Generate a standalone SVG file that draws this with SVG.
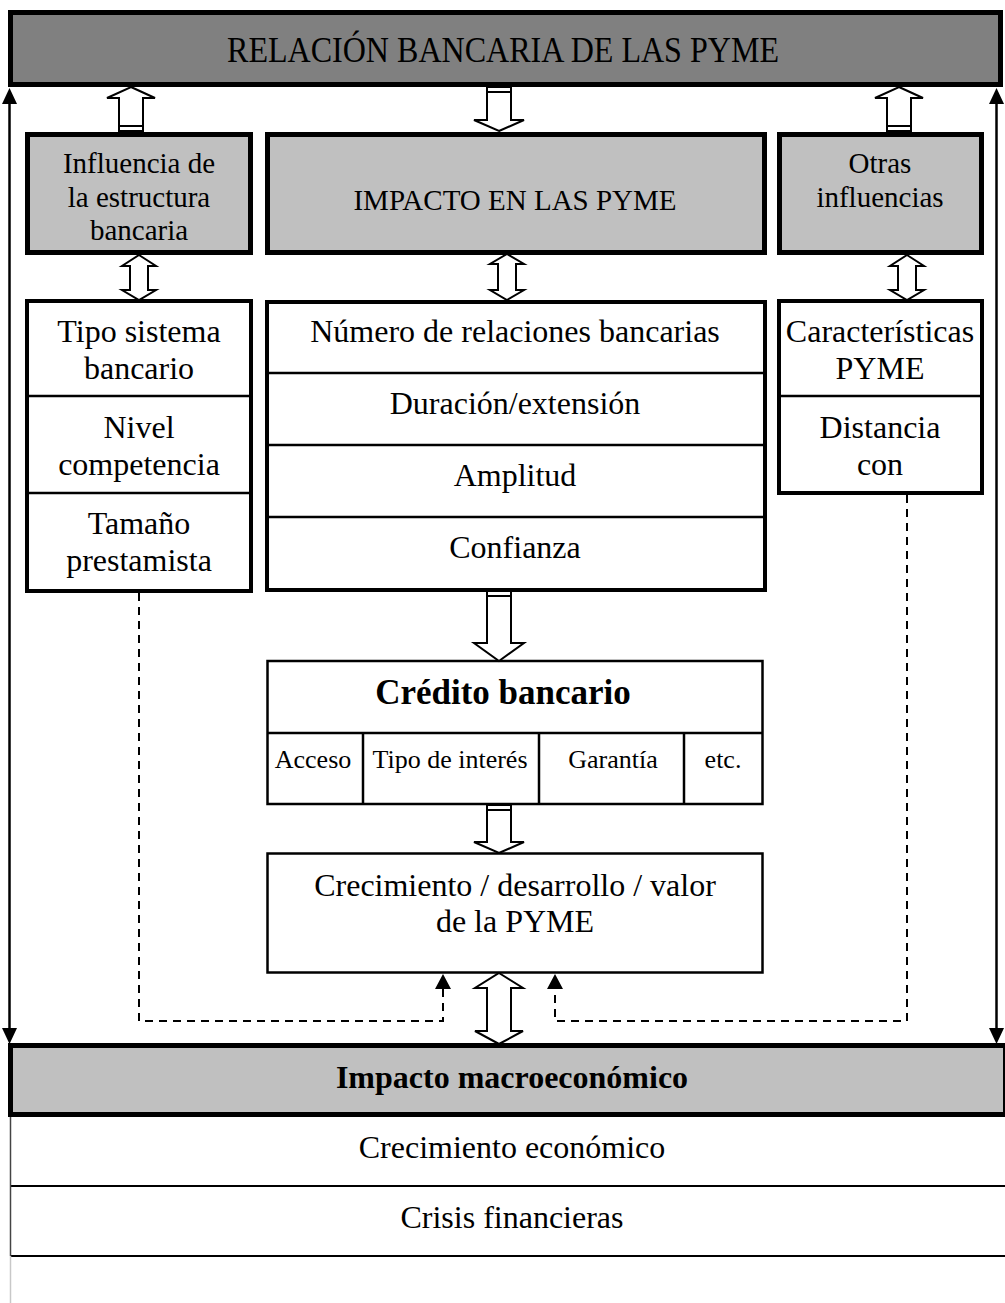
<svg xmlns="http://www.w3.org/2000/svg" width="1005" height="1303" viewBox="0 0 1005 1303">
<style>
text{font-family:"Liberation Serif","Times New Roman",serif;fill:#000;text-anchor:middle}
.t29{font-size:29px}
.t32{font-size:32px}
.t26{font-size:26px}
.b{font-weight:bold}
.gbox{fill:#c0c0c0;stroke:#000;stroke-width:5}
.wbox{fill:#fff;stroke:#000;stroke-width:4}
.tbox{fill:#fff;stroke:#000;stroke-width:2.5}
.div{stroke:#000;stroke-width:2.5;fill:none}
.blk{fill:#fff;stroke:#000;stroke-width:2;stroke-linejoin:miter}
.cap{stroke:#000;stroke-width:2;fill:none}
.dash{fill:none;stroke:#000;stroke-width:2;stroke-dasharray:8,6}
.line{fill:none;stroke:#000;stroke-width:2.5}
</style>

<g id="relacion">
<rect x="10.5" y="12.5" width="990" height="72" fill="#808080" stroke="#000" stroke-width="5"/>
<text x="503" y="62" style="font-size:36px" textLength="552" lengthAdjust="spacingAndGlyphs">RELACIÓN BANCARIA DE LAS PYME</text>
</g>

<g id="influencia">
<rect class="gbox" x="27.5" y="134.5" width="223" height="118"/>
<text class="t29" x="139" y="173">Influencia de</text>
<text class="t29" x="139" y="207">la estructura</text>
<text class="t29" x="139" y="240">bancaria</text>
</g>

<g id="impacto-pyme">
<rect class="gbox" x="267.5" y="134.5" width="497" height="118"/>
<text class="t29" x="515" y="210">IMPACTO EN LAS PYME</text>
</g>

<g id="otras">
<rect class="gbox" x="779.5" y="134.5" width="202" height="118"/>
<text class="t29" x="880" y="173">Otras</text>
<text class="t29" x="880" y="207">influencias</text>
</g>

<g id="estructura-lista">
<rect class="wbox" x="27" y="301" width="224" height="290"/>
<line class="div" x1="27" y1="396" x2="251" y2="396"/>
<line class="div" x1="27" y1="493" x2="251" y2="493"/>
<text class="t32" x="139" y="342">Tipo sistema</text>
<text class="t32" x="139" y="379">bancario</text>
<text class="t32" x="139" y="438">Nivel</text>
<text class="t32" x="139" y="475">competencia</text>
<text class="t32" x="139" y="534">Tamaño</text>
<text class="t32" x="139" y="571">prestamista</text>
</g>

<g id="impacto-lista">
<rect class="wbox" x="267" y="302" width="498" height="288"/>
<line class="div" x1="267" y1="373" x2="765" y2="373"/>
<line class="div" x1="267" y1="445" x2="765" y2="445"/>
<line class="div" x1="267" y1="517" x2="765" y2="517"/>
<text class="t32" x="515" y="342">Número de relaciones bancarias</text>
<text class="t32" x="515" y="414">Duración/extensión</text>
<text class="t32" x="515" y="486">Amplitud</text>
<text class="t32" x="515" y="558">Confianza</text>
</g>

<g id="otras-lista">
<rect class="wbox" x="779" y="301" width="203" height="192"/>
<line class="div" x1="779" y1="396" x2="982" y2="396"/>
<text class="t32" x="880" y="342">Características</text>
<text class="t32" x="880" y="379">PYME</text>
<text class="t32" x="880" y="438">Distancia</text>
<text class="t32" x="880" y="475">con</text>
</g>

<g id="credito">
<rect class="tbox" x="267.5" y="661" width="495" height="143"/>
<line class="div" x1="267.5" y1="733" x2="762.5" y2="733"/>
<line class="div" x1="363" y1="733" x2="363" y2="804"/>
<line class="div" x1="539" y1="733" x2="539" y2="804"/>
<line class="div" x1="684" y1="733" x2="684" y2="804"/>
<text class="b" x="503" y="704" style="font-size:35px">Crédito bancario</text>
<text class="t26" x="313" y="768">Acceso</text>
<text class="t26" x="450" y="768">Tipo de interés</text>
<text class="t26" x="613" y="768">Garantía</text>
<text class="t26" x="723" y="768">etc.</text>
</g>

<g id="crecimiento">
<rect class="tbox" x="267.5" y="853.5" width="495" height="119"/>
<text class="t32" x="515" y="896">Crecimiento / desarrollo / valor</text>
<text class="t32" x="515" y="932">de la PYME</text>
</g>

<g id="macro">
<rect x="10.5" y="1045.5" width="995" height="69" fill="#c0c0c0" stroke="#000" stroke-width="5"/>
<text class="t32 b" x="512" y="1088">Impacto macroeconómico</text>
<line x1="10" y1="1186" x2="1005" y2="1186" stroke="#000" stroke-width="2"/>
<line x1="10" y1="1256" x2="1005" y2="1256" stroke="#000" stroke-width="2"/>
<line x1="10.5" y1="1117" x2="10.5" y2="1256" stroke="#444" stroke-width="1.5"/>
<line x1="10.5" y1="1256" x2="10.5" y2="1303" stroke="#c8c8c8" stroke-width="1.5"/>
<text class="t32" x="512" y="1158">Crecimiento económico</text>
<text class="t32" x="512" y="1228">Crisis financieras</text>
</g>

<g id="connectors">
<line class="line" x1="9.5" y1="1030" x2="9.5" y2="101"/>
<path d="M9.5,88 L2,104 L17,104 Z" fill="#000"/>
<path d="M9.5,1044 L2,1028 L17,1028 Z" fill="#000"/>
<line class="line" x1="996.5" y1="1030" x2="996.5" y2="101"/>
<path d="M996.5,88 L989,104 L1004,104 Z" fill="#000"/>
<path d="M996.5,1044 L989,1028 L1004,1028 Z" fill="#000"/>

<path class="blk" d="M131,87 L155,98 L143,98 L143,131 L119,131 L119,98 L107,98 Z"/>
<line class="cap" x1="119" y1="126" x2="143" y2="126"/>
<path class="blk" d="M499,131 L524,120 L511,120 L511,87 L487,87 L487,120 L474,120 Z"/>
<line class="cap" x1="487" y1="92" x2="511" y2="92"/>
<path class="blk" d="M899,87 L923,98 L911,98 L911,131 L887,131 L887,98 L875,98 Z"/>
<line class="cap" x1="887" y1="126" x2="911" y2="126"/>

<path class="blk" d="M139,255 L156,266 L148,266 L148,290 L156,290 L139,300 L122,290 L130,290 L130,266 L122,266 Z"/>
<path class="blk" d="M507,254 L524,264 L516,264 L516,290 L524,290 L507,300 L490,290 L498,290 L498,264 L490,264 Z"/>
<path class="blk" d="M907,255 L924,266 L916,266 L916,290 L924,290 L907,300 L890,290 L898,290 L898,266 L890,266 Z"/>

<path class="blk" d="M499,661 L524,643 L511,643 L511,591 L487,591 L487,643 L474,643 Z"/>
<line class="cap" x1="487" y1="596" x2="511" y2="596"/>
<path class="blk" d="M499,853 L524,842 L511,842 L511,805 L487,805 L487,842 L474,842 Z"/>
<line class="cap" x1="487" y1="810" x2="511" y2="810"/>
<path class="blk" d="M499,973 L523,988 L511,988 L511,1031 L523,1031 L499,1044 L475,1031 L487,1031 L487,988 L475,988 Z"/>

<path class="dash" d="M139,593 L139,1021 L443,1021 L443,989"/>
<path d="M443,974 L435,989 L451,989 Z" fill="#000"/>
<path class="dash" d="M907,495 L907,1021 L555,1021 L555,989"/>
<path d="M555,974 L547,989 L563,989 Z" fill="#000"/>
</g>
</svg>
